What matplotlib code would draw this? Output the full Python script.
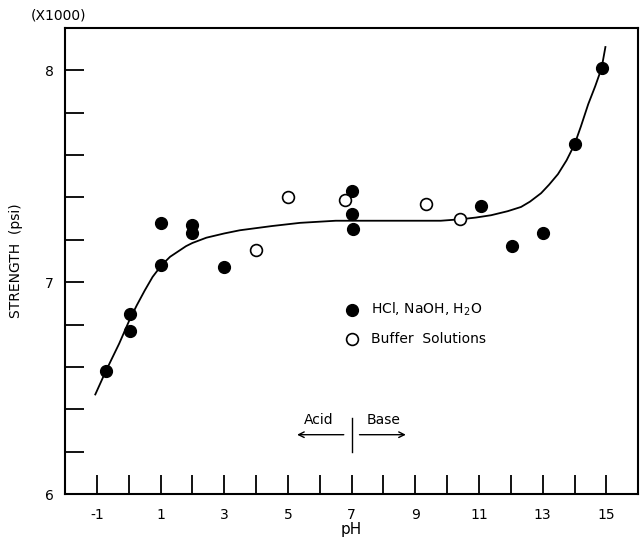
import numpy as np
import matplotlib
matplotlib.use('Agg')
import matplotlib.pyplot as plt

# Dati (resistenza in migliaia di psi)
ph_acq = np.array([-0.7, 0.03, 0.03, 1.0, 1.0, 2.0, 2.0, 3.0, 7.0, 7.0, 7.05, 11.05, 12.05, 13.0, 14.0, 14.85])
str_acq = np.array([6.58, 6.85, 6.77, 7.08, 7.28, 7.27, 7.23, 7.07, 7.43, 7.32, 7.25, 7.36, 7.17, 7.23, 7.65, 8.01])

ph_buf = np.array([4.0, 5.0, 6.8, 9.33, 10.41])
str_buf = np.array([7.15, 7.40, 7.39, 7.37, 7.30])

# curva tracciata a mano (punti letti)
ph_curva = np.array([-1.05, -0.9, -0.72, -0.3, 0.02, 0.25, 0.5, 0.75, 1.03, 1.3, 1.6, 1.8, 2.0, 2.44,
                     3.0, 3.49, 4.5, 5.38, 6.5, 7.5, 8.5, 9.8, 10.43, 10.9, 11.38, 11.9, 12.32, 12.6,
                     12.95, 13.2, 13.48, 13.75, 14.0, 14.2, 14.43, 14.65, 14.85, 14.97])
str_curva = np.array([6.47, 6.52, 6.58, 6.71, 6.82, 6.89, 6.96, 7.025, 7.08, 7.12, 7.15, 7.17, 7.185, 7.21,
                      7.23, 7.245, 7.265, 7.28, 7.29, 7.29, 7.29, 7.29, 7.297, 7.305, 7.316, 7.335, 7.355, 7.38,
                      7.42, 7.46, 7.51, 7.575, 7.65, 7.735, 7.84, 7.925, 8.01, 8.11])

x_ticks = np.arange(-1, 16)
x_labels = [str(v) if v % 2 else '' for v in x_ticks]
y_ticks = np.round(np.arange(6.0, 8.01, 0.2), 1)
y_labels = ['6' if v == 6 else '7' if v == 7 else '8' if v == 8 else '' for v in y_ticks]

plt.rcParams['font.family'] = 'DejaVu Sans'
fig = plt.figure(figsize=(6.44, 5.48), dpi=100)
ax = fig.add_axes([0.101, 0.0985, 0.890, 0.8505])

ax.plot(ph_curva, str_curva, '-', color='black', lw=1.3, zorder=2)
ax.plot(ph_acq, str_acq, 'o', ms=8.5, mfc='black', mec='black', zorder=3)
ax.plot(ph_buf, str_buf, 'o', ms=8.5, mfc='white', mec='black', mew=1.2, zorder=3)

# legenda dentro il grafico
ax.plot([7.0], [6.87], 'o', ms=8.5, mfc='black', mec='black')
ax.plot([7.0], [6.73], 'o', ms=8.5, mfc='white', mec='black', mew=1.2)
ax.text(7.6, 6.87, 'HCl, NaOH, H$_2$O', va='center', ha='left', fontsize=10)
ax.text(7.6, 6.73, 'Buffer  Solutions', va='center', ha='left', fontsize=10)

# acido / base
ax.text(5.98, 6.35, 'Acid', ha='center', va='center', fontsize=10)
ax.text(8.0, 6.35, 'Base', ha='center', va='center', fontsize=10)
ax.plot([7.0, 7.0], [6.2, 6.36], color='black', lw=1)
ax.annotate('', xy=(5.2, 6.28), xytext=(6.84, 6.28),
            arrowprops=dict(arrowstyle='->', color='black', lw=1))
ax.annotate('', xy=(8.79, 6.28), xytext=(7.16, 6.28),
            arrowprops=dict(arrowstyle='->', color='black', lw=1))

ax.set_xlim(-2, 16)
ax.set_ylim(6, 8.2)
ax.set_xticks(x_ticks)
ax.set_xticklabels(x_labels)
ax.set_yticks(y_ticks)
ax.set_yticklabels(y_labels)
ax.tick_params(direction='in', length=14, width=1.3, labelsize=10)
ax.tick_params(axis='x', pad=10)
ax.tick_params(axis='y', pad=8)
for s in ax.spines.values():
    s.set_linewidth(1.5)

ax.set_xlabel('pH', fontsize=11, labelpad=0)
ax.set_ylabel('STRENGTH  (psi)', fontsize=10, labelpad=16)
fig.text(0.047, 0.972, '(X1000)', fontsize=10, ha='left', va='center')

fig.savefig('out.png', dpi=100)
